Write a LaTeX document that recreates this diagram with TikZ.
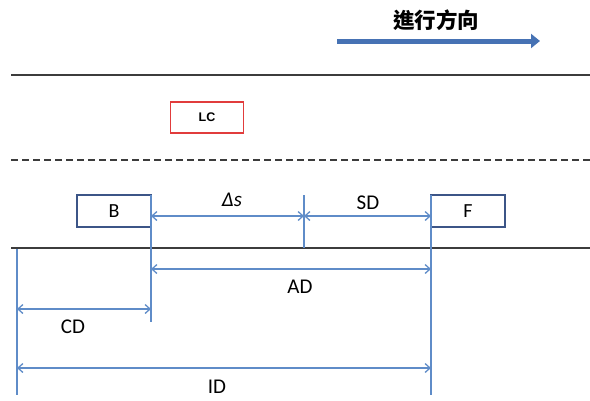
\documentclass[tikz,border=0pt]{standalone}
\usepackage{fontspec}
\setmainfont{Carlito}
\newfontfamily\cjk{Noto Sans CJK TC}
\newfontfamily\lcfont{Liberation Sans}
\usetikzlibrary{arrows.meta}
\definecolor{dimblue}{RGB}{95,140,200}
\definecolor{boxblue}{RGB}{60,85,135}
\definecolor{arrblue}{RGB}{70,114,180}
\definecolor{lcred}{RGB}{225,60,60}
\definecolor{roadgray}{RGB}{60,60,60}
\begin{document}
\begin{tikzpicture}[x=1pt,y=-1pt,
  road/.style={draw=roadgray,line width=2pt},
  lane/.style={draw=roadgray,line width=2pt,dash pattern=on 6.5pt off 4.5pt},
  carbox/.style={draw=boxblue,line width=1.3pt,minimum width=74pt,minimum height=32pt,inner sep=0pt,font=\fontsize{20}{22}\selectfont},
  lcbox/.style={draw=lcred,line width=1.5pt,minimum width=73pt,minimum height=31pt,inner sep=0pt,font=\lcfont\bfseries\fontsize{12.5}{14}\selectfont},
  ext/.style={draw=dimblue,line width=1.3pt},
  dim/.style={draw=dimblue,line width=1.3pt,{Straight Barb[length=5pt,width=9pt]}-{Straight Barb[length=5pt,width=9pt]}},
  lbl/.style={font=\fontsize{21}{23}\selectfont,inner sep=0pt}
]
\useasboundingbox (0,0) rectangle (590,400);
% direction arrow
\node[font=\cjk\bfseries\fontsize{21.5}{23}\selectfont,inner sep=0pt] (dir) at (436,20) {進行方向};
\coordinate (d1) at (337,41);
\coordinate (d2) at (540,41);
\draw[arrblue,line width=5pt,-{Triangle[length=9pt,width=14pt]}] (d1) -- (d2);
% road lines
\coordinate (t1) at (11,75); \coordinate (t2) at (590,75);
\coordinate (m1) at (11,160); \coordinate (m2) at (590,160);
\coordinate (b1) at (11,248); \coordinate (b2) at (590,248);
\draw[road] (t1) -- (t2);
\draw[lane] (m1) -- (m2);
\draw[road] (b1) -- (b2);
% boxes
\node[lcbox] (lc) at (207,117.5) {LC};
\node[carbox] (B) at (114,211) {B};
\node[carbox] (F) at (468,211) {F};
% extension lines
\coordinate (x1top) at (151,195); \coordinate (x1bot) at (151,322);
\coordinate (x2top) at (304,195); \coordinate (x2bot) at (304,248);
\coordinate (x3top) at (431,195); \coordinate (x3bot) at (431,395);
\coordinate (x0top) at (17,249); \coordinate (x0bot) at (17,395);
\draw[ext] (x1top) -- (x1bot);
\draw[ext] (x2top) -- (x2bot);
\draw[ext] (x3top) -- (x3bot);
\draw[ext] (x0top) -- (x0bot);
% dimension arrows
\coordinate (ds1) at (151,216); \coordinate (ds2) at (304,216);
\coordinate (sd1) at (304,216); \coordinate (sd2) at (431,216);
\coordinate (ad1) at (151,269); \coordinate (ad2) at (431,269);
\coordinate (cd1) at (17,309); \coordinate (cd2) at (151,309);
\coordinate (id1) at (17,368); \coordinate (id2) at (431,368);
\draw[dim] (ds1) -- (ds2);
\draw[dim] (sd1) -- (sd2);
\draw[dim] (ad1) -- (ad2);
\draw[dim] (cd1) -- (cd2);
\draw[dim] (id1) -- (id2);
% labels
\node[lbl] (lds) at (232,200) {\itshape Δs};
\node[lbl] (lsd) at (368,203) {SD};
\node[lbl] (lad) at (300,287) {AD};
\node[lbl] (lcd) at (73,327) {CD};
\node[lbl] (lid) at (217,387) {ID};
\end{tikzpicture}
\end{document}
